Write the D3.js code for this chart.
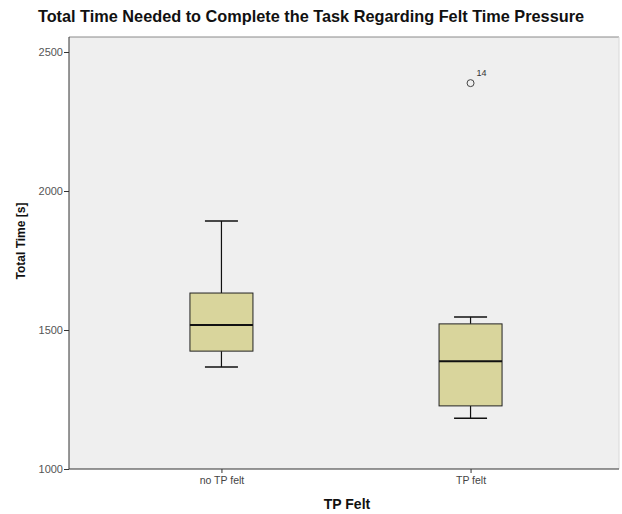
<!DOCTYPE html>
<html>
<head>
<meta charset="utf-8">
<script src="https://cdn.jsdelivr.net/npm/d3@7"></script>
<style>
  body { margin: 0; background: #ffffff; }
  svg { display: block; font-family: "Liberation Sans", Arial, sans-serif; }
</style>
</head>
<body>
<svg id="chart" width="622" height="514"></svg>
<script>
// Groups and their five-number summaries (seconds)
const groups = ["no TP felt", "TP felt"];
const whiskerLow = [1367, 1183];
const q1 = [1424, 1227];
const median = [1518, 1388];
const q3 = [1633, 1522];
const whiskerHigh = [1892, 1547];

// Outliers: group, value, case number
const outlierGroups = ["TP felt"];
const outlierValues = [2388];
const outlierCases = ["14"];

const yTicks = [1000, 1500, 2000, 2500];

const svg = d3.select("#chart");
const plotLeft = 69, plotRight = 619, plotTop = 37, plotBottom = 469;

const x = d3.scalePoint().domain(groups).range([plotLeft, plotRight + 4]).padding(0.612);
const y = d3.scaleLinear().domain([1000, 2500]).range([plotBottom, 52]);

// plot background and frame
svg.append("rect").attr("x", plotLeft).attr("y", plotTop)
  .attr("width", plotRight - plotLeft).attr("height", plotBottom - plotTop)
  .attr("fill", "#efefef");
svg.append("line").attr("x1", plotLeft).attr("x2", plotRight).attr("y1", plotTop).attr("y2", plotTop)
  .attr("stroke", "#8a8a8a").attr("stroke-width", 1);
svg.append("line").attr("x1", plotRight).attr("x2", plotRight).attr("y1", plotTop).attr("y2", plotBottom)
  .attr("stroke", "#d8d8d8").attr("stroke-width", 1);

// axes
const yAxis = d3.axisLeft(y).tickValues(yTicks).tickSize(5).tickFormat(d3.format("d"));
const gy = svg.append("g").attr("transform", `translate(${plotLeft},0)`).call(yAxis);
gy.select(".domain").attr("d", `M0,${plotTop}V${plotBottom}`).attr("stroke", "#333");
gy.selectAll(".tick line").attr("stroke", "#333");
gy.selectAll(".tick text").attr("font-size", 11).attr("fill", "#555")
  .attr("font-family", "'Liberation Sans', Arial, sans-serif").attr("x", -6).attr("dy", "0.35em");

const xAxis = d3.axisBottom(x).tickSize(4).tickSizeOuter(0);
const gx = svg.append("g").attr("transform", `translate(0,${plotBottom})`).call(xAxis);
gx.select(".domain").attr("d", `M${plotLeft},0H${plotRight}`).attr("stroke", "#333").attr("stroke-width", 1.2);
gx.selectAll(".tick line").attr("stroke", "#333");
gx.selectAll(".tick text").attr("font-size", 10.5).attr("fill", "#444")
  .attr("font-family", "'Liberation Sans', Arial, sans-serif").attr("y", 8);

// boxes
const boxW = 63, capW = 33;
groups.forEach((g, i) => {
  const cx = x(g);
  const gg = svg.append("g");
  gg.append("line").attr("x1", cx).attr("x2", cx)
    .attr("y1", y(whiskerHigh[i])).attr("y2", y(q3[i])).attr("stroke", "#111").attr("stroke-width", 1.2);
  gg.append("line").attr("x1", cx).attr("x2", cx)
    .attr("y1", y(q1[i])).attr("y2", y(whiskerLow[i])).attr("stroke", "#111").attr("stroke-width", 1.2);
  [whiskerHigh[i], whiskerLow[i]].forEach(v => {
    gg.append("line").attr("x1", cx - capW / 2).attr("x2", cx + capW / 2)
      .attr("y1", y(v)).attr("y2", y(v)).attr("stroke", "#111").attr("stroke-width", 1.5);
  });
  gg.append("rect").attr("x", cx - boxW / 2).attr("y", y(q3[i]))
    .attr("width", boxW).attr("height", y(q1[i]) - y(q3[i]))
    .attr("fill", "#d9d59c").attr("stroke", "#222").attr("stroke-width", 1);
  gg.append("line").attr("x1", cx - boxW / 2).attr("x2", cx + boxW / 2)
    .attr("y1", y(median[i])).attr("y2", y(median[i])).attr("stroke", "#111").attr("stroke-width", 2);
});

// outliers
outlierGroups.forEach((g, i) => {
  const cx = x(g);
  svg.append("circle").attr("cx", cx).attr("cy", y(outlierValues[i])).attr("r", 3.5)
    .attr("fill", "none").attr("stroke", "#444").attr("stroke-width", 1);
  svg.append("text").attr("x", cx + 6).attr("y", y(outlierValues[i]) - 7)
    .attr("font-size", 9).attr("fill", "#333").text(outlierCases[i]);
});

// titles
svg.append("text").attr("x", 311).attr("y", 22).attr("text-anchor", "middle")
  .attr("font-size", 16.3).attr("font-weight", "bold").attr("fill", "#111")
  .text("Total Time Needed to Complete the Task Regarding Felt Time Pressure");
svg.append("text").attr("x", 347).attr("y", 509).attr("text-anchor", "middle")
  .attr("font-size", 14).attr("font-weight", "bold").attr("fill", "#111").text("TP Felt");
svg.append("text").attr("transform", "translate(25,241) rotate(-90)").attr("text-anchor", "middle")
  .attr("font-size", 12).attr("font-weight", "bold").attr("fill", "#111").text("Total Time [s]");
</script>
</body>
</html>
